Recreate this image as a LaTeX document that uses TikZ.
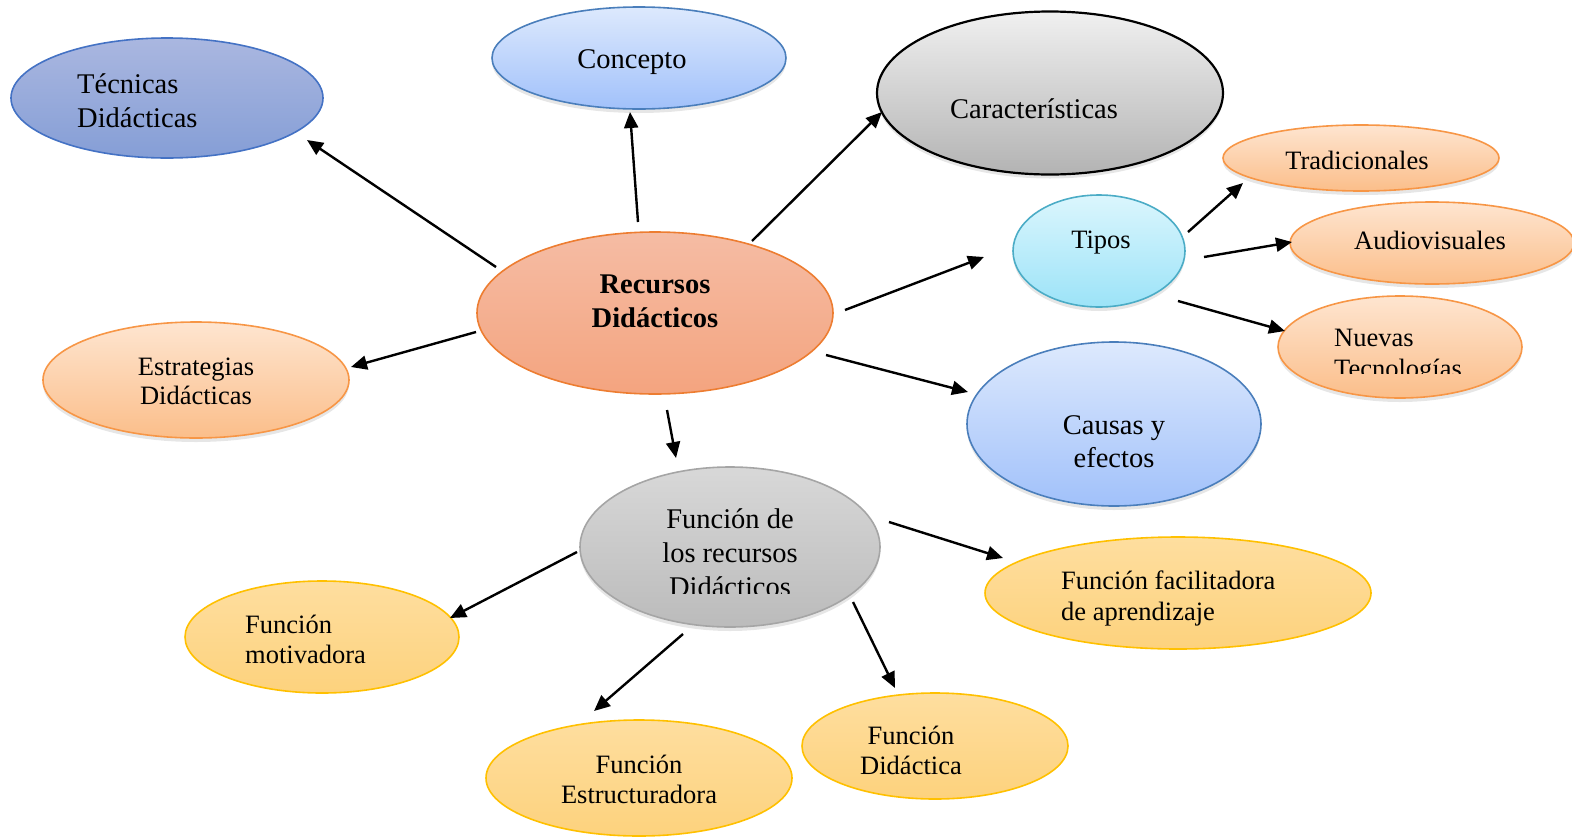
\documentclass[tikz,border=0pt]{standalone}
\usepackage{fontspec}
\setmainfont{Liberation Serif}
\usetikzlibrary{shapes.geometric,shadows,arrows.meta}

\definecolor{tecT}{HTML}{AAB7E0}\definecolor{tecB}{HTML}{859ED6}\definecolor{tecD}{HTML}{4472C4}
\definecolor{bluT}{HTML}{DDE9FD}\definecolor{bluB}{HTML}{A1C1FA}\definecolor{bluD}{HTML}{4A7EBB}
\definecolor{gryT}{HTML}{F0F0F0}\definecolor{gryB}{HTML}{B3B3B3}
\definecolor{fgrT}{HTML}{D8D8D8}\definecolor{fgrB}{HTML}{BBBBBB}\definecolor{fgrD}{HTML}{A5A5A5}
\definecolor{orgT}{HTML}{FEE5D0}\definecolor{orgB}{HTML}{FBBE8A}\definecolor{orgD}{HTML}{F79646}
\definecolor{salT}{HTML}{F5BCA4}\definecolor{salB}{HTML}{F4A47F}\definecolor{salD}{HTML}{ED7D31}
\definecolor{cyaT}{HTML}{DBF6FD}\definecolor{cyaB}{HTML}{9CE3F8}\definecolor{cyaD}{HTML}{4BACC6}
\definecolor{yelT}{HTML}{FEDE9F}\definecolor{yelB}{HTML}{FDD27D}\definecolor{yelD}{HTML}{FFC000}

\newcommand{\fbig}{\fontsize{28.5}{33.5}\selectfont}
\newcommand{\fsml}{\fontsize{26.5}{31}\selectfont}

\tikzset{
  ell/.style={ellipse, inner sep=0pt, outer sep=0pt, line width=1.6pt},
  shad/.style={drop shadow={shadow xshift=0pt, shadow yshift=-4pt, opacity=0.16, fill=black!60}},
  etec/.style={ell, draw=tecD, top color=tecT, bottom color=tecB},
  eblu/.style={ell, shad, draw=bluD, top color=bluT, bottom color=bluB},
  egry/.style={ell, shad, draw=black, line width=2.2pt, top color=gryT, bottom color=gryB},
  efgr/.style={ell, shad, draw=fgrD, top color=fgrT, bottom color=fgrB},
  eorg/.style={ell, shad, draw=orgD, top color=orgT, bottom color=orgB},
  esal/.style={ell, draw=salD, top color=salT, bottom color=salB},
  ecya/.style={ell, shad, draw=cyaD, top color=cyaT, bottom color=cyaB},
  eyel/.style={ell, draw=yelD, top color=yelT, bottom color=yelB},
  tb/.style={inner sep=0pt, anchor=base, font=\fbig},
  tbl/.style={inner sep=0pt, anchor=base west, font=\fbig},
  ts/.style={inner sep=0pt, anchor=base, font=\fsml},
  tsl/.style={inner sep=0pt, anchor=base west, font=\fsml},
  arr/.style={line width=2.4pt, -{Triangle[length=16pt,width=14pt]}},
}

\begin{document}
\begin{tikzpicture}[x=1pt,y=-1pt]
\useasboundingbox (0,0) rectangle (1572,836);
\clip (0,0) rectangle (1572,836);

% ellipses
\node[etec, minimum width=312pt, minimum height=120pt] (tec) at (167,98) {};
\node[eblu, minimum width=294pt, minimum height=102pt] (con) at (639,58) {};
\node[egry, minimum width=346pt, minimum height=163pt] (car) at (1050,93) {};
\node[eorg, minimum width=276pt, minimum height=66pt] (tra) at (1361,158) {};
\node[ecya, minimum width=172pt, minimum height=112pt] (tip) at (1099,251) {};
\node[eorg, minimum width=284pt, minimum height=82pt] (aud) at (1432,243) {};
\node[eorg, minimum width=244pt, minimum height=102pt] (nue) at (1400,347) {};
\node[esal, minimum width=356pt, minimum height=162pt] (rec) at (655,313) {};
\node[eorg, minimum width=306pt, minimum height=116pt] (est) at (196,380) {};
\node[eblu, minimum width=294pt, minimum height=164pt] (cau) at (1114,424) {};
\node[efgr, minimum width=300pt, minimum height=160pt] (fun) at (730,547) {};
\node[eyel, minimum width=386pt, minimum height=112pt] (fac) at (1178,593) {};
\node[eyel, minimum width=274pt, minimum height=112pt] (mot) at (322,637) {};
\node[eyel, minimum width=306pt, minimum height=116pt] (str) at (639,778) {};
\node[eyel, minimum width=266pt, minimum height=106pt] (did) at (935,746) {};

% texts
\node[tbl] (tecA) at (77,93) {Técnicas};
\node[tbl] (tecB) at (77,127) {Didácticas};
\node[tb] (conA) at (632,68) {Concepto};
\node[tb] (carA) at (1034,118) {Características};
\node[ts] (traA) at (1357,169) {Tradicionales};
\node[ts] (tipA) at (1101,248) {Tipos};
\node[ts] (audA) at (1430,249) {Audiovisuales};
\begin{scope}
  \clip (1300,300) rectangle (1520,373);
  \node[tsl] (nueA) at (1334,346) {Nuevas};
  \node[tsl] (nueB) at (1334,377) {Tecnologías};
\end{scope}
\node[tb, font=\fbig\bfseries] (recA) at (655,293) {Recursos};
\node[tb, font=\fbig\bfseries] (recB) at (655,327) {Didácticos};
\node[ts] (estA) at (196,375) {Estrategias};
\node[ts] (estB) at (196,404) {Didácticas};
\node[tb] (cauA) at (1114,434) {Causas y};
\node[tb] (cauB) at (1114,467) {efectos};
\begin{scope}
  \clip (600,480) rectangle (860,593);
  \node[tb] (funA) at (730,528) {Función de};
  \node[tb] (funB) at (730,562) {los recursos};
  \node[tb] (funC) at (730,596) {Didácticos};
\end{scope}
\node[tsl] (facA) at (1061,589) {Función facilitadora};
\node[tsl] (facB) at (1061,620) {de aprendizaje};
\node[tsl] (motA) at (245,633) {Función};
\node[tsl] (motB) at (245,663) {motivadora};
\node[ts] (strA) at (639,773) {Función};
\node[ts] (strB) at (639,803) {Estructuradora};
\node[ts] (didA) at (911,744) {Función};
\node[ts] (didB) at (911,774) {Didáctica};

% connectors
\draw[arr] ([shift={(-159,-46)}]rec.center) -- ([shift={(140,42)}]tec.center);
\draw[arr] ([shift={(-17,-91)}]rec.center) -- ([shift={(-9,54)}]con.center);
\draw[arr] ([shift={(97,-72)}]rec.center) -- ([shift={(-168,19)}]car.center);
\draw[arr] ([shift={(190,-3)}]rec.center) -- ([shift={(-115,6)}]tip.center);
\draw[arr] ([shift={(171,42)}]rec.center) -- ([shift={(-146,-32)}]cau.center);
\draw[arr] ([shift={(-179,19)}]rec.center) -- ([shift={(155,-13)}]est.center);
\draw[arr] ([shift={(12,97)}]rec.center) -- ([shift={(-54,-89)}]fun.center);
\draw[arr] ([shift={(89,-19)}]tip.center) -- ([shift={(-118,25)}]tra.center);
\draw[arr] ([shift={(105,6)}]tip.center) -- ([shift={(-140,-1)}]aud.center);
\draw[arr] ([shift={(79,50)}]tip.center) -- ([shift={(-115,-16)}]nue.center);
\draw[arr] ([shift={(159,-25)}]fun.center) -- ([shift={(-175,-35)}]fac.center);
\draw[arr] ([shift={(-153,5)}]fun.center) -- ([shift={(128,-19)}]mot.center);
\draw[arr] ([shift={(-47,87)}]fun.center) -- ([shift={(-45,-67)}]str.center);
\draw[arr] ([shift={(123,55)}]fun.center) -- ([shift={(-40,-58)}]did.center);
\end{tikzpicture}
\end{document}
